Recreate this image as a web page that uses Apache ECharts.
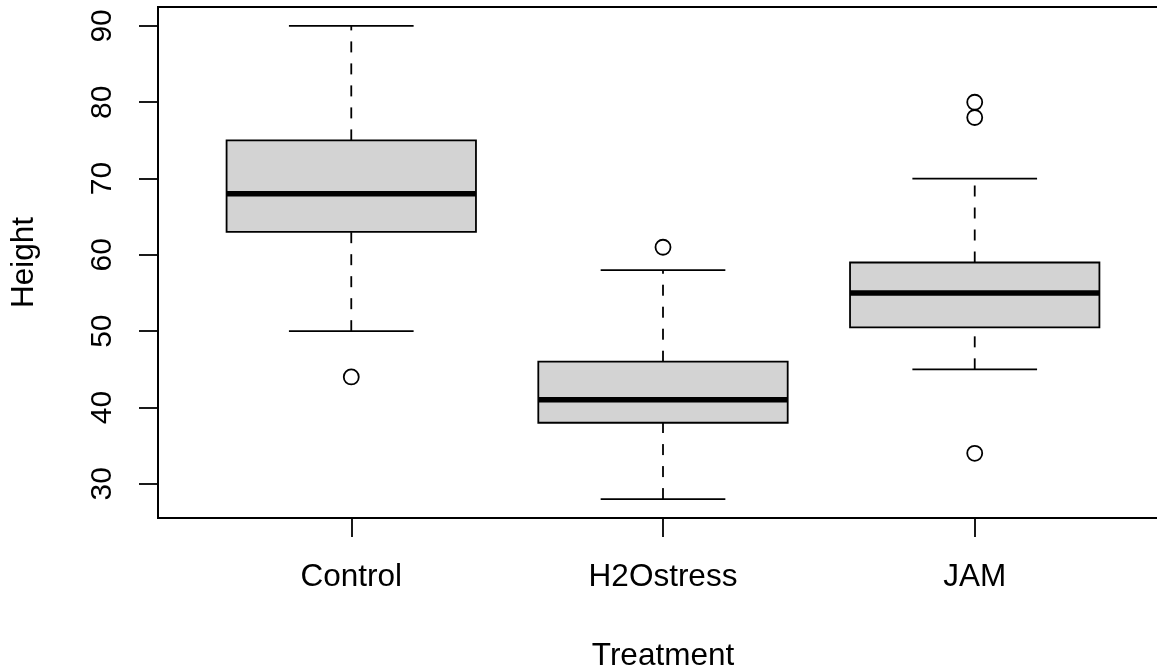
<!DOCTYPE html>
<html>
<head>
<meta charset="utf-8">
<script src="https://cdn.jsdelivr.net/npm/echarts@6/dist/echarts.min.js"></script>
<style>
  html, body { margin: 0; padding: 0; background: #fff; }
  #chart { width: 1157px; height: 665px; }
</style>
</head>
<body>
<div id="chart"></div>
<script>
// groups along the x axis
const categories = ['Control', 'H2Ostress', 'JAM']
// five-number summaries: lower whisker, Q1, median, Q3, upper whisker
const lowerWhisker = [50, 28, 45]
const q1 = [63, 38, 50.5]
const median = [68, 41, 55]
const q3 = [75, 46, 59]
const upperWhisker = [90, 58, 70]
// outliers as [group index, value]
const outlierGroup = [0, 1, 2, 2, 2]
const outlierValue = [44, 61, 34, 78, 80]
const yTicks = [30, 40, 50, 60, 70, 80, 90]

const font = 'Liberation Sans, Arial, Helvetica, sans-serif'
const boxHalf = 0.4    // box width 0.8 in axis units
const stapleHalf = 0.2 // whisker ends half of box width

const boxData = categories.map(function (c, i) {
  return [i + 1, lowerWhisker[i], q1[i], median[i], q3[i], upperWhisker[i]]
})
const outlierData = outlierValue.map(function (v, i) {
  return [outlierGroup[i] + 1, v]
})

function renderBox (params, api) {
  const x = api.value(0)
  const lo = api.coord([x, api.value(1)])
  const b1 = api.coord([x - boxHalf, api.value(2)])
  const b2 = api.coord([x + boxHalf, api.value(4)])
  const md1 = api.coord([x - boxHalf, api.value(3)])
  const md2 = api.coord([x + boxHalf, api.value(3)])
  const hi = api.coord([x, api.value(5)])
  const s1 = api.coord([x - stapleHalf, 0])[0]
  const s2 = api.coord([x + stapleHalf, 0])[0]
  const solid = { stroke: '#000', lineWidth: 1.8 }
  const dashed = { stroke: '#000', lineWidth: 1.8, lineDash: [11, 11] }
  return {
    type: 'group',
    children: [
      // whiskers (dashed)
      { type: 'line', shape: { x1: lo[0], y1: lo[1], x2: lo[0], y2: b1[1] }, style: dashed },
      { type: 'line', shape: { x1: hi[0], y1: b2[1], x2: hi[0], y2: hi[1] }, style: dashed },
      // staples
      { type: 'line', shape: { x1: s1, y1: lo[1], x2: s2, y2: lo[1] }, style: solid },
      { type: 'line', shape: { x1: s1, y1: hi[1], x2: s2, y2: hi[1] }, style: solid },
      // box
      {
        type: 'rect',
        shape: { x: b1[0], y: b2[1], width: b2[0] - b1[0], height: b1[1] - b2[1] },
        style: { fill: '#d3d3d3', stroke: '#000', lineWidth: 1.8 }
      },
      // median
      { type: 'line', shape: { x1: md1[0], y1: md1[1], x2: md2[0], y2: md2[1] }, style: { stroke: '#000', lineWidth: 5.5 } }
    ]
  }
}

const chart = echarts.init(document.getElementById('chart'))
chart.setOption({
  animation: false,
  backgroundColor: '#fff',
  grid: {
    left: 158,
    top: 7,
    width: 1010, // plot region runs past the right edge of the picture
    bottom: 147,
    outerBoundsMode: 'none',
    show: true,
    borderColor: '#000',
    borderWidth: 2,
    backgroundColor: 'transparent'
  },
  xAxis: {
    type: 'value',
    min: 0.38,
    max: 3.62,
    name: 'Treatment',
    nameLocation: 'middle',
    nameGap: 122,
    nameTextStyle: { fontFamily: font, fontSize: 31.5, color: '#000' },
    axisLine: { show: false },
    splitLine: { show: false },
    axisTick: {
      show: true,
      length: 19,
      lineStyle: { color: '#000', width: 1.8 },
      customValues: [1, 2, 3]
    },
    axisLabel: {
      fontFamily: font,
      fontSize: 31.5,
      color: '#000',
      margin: 43,
      customValues: [1, 2, 3],
      formatter: function (v) { return categories[Math.round(v) - 1] }
    }
  },
  yAxis: {
    type: 'value',
    min: 25.52,
    max: 92.48,
    name: 'Height',
    nameLocation: 'middle',
    nameRotate: 90,
    nameGap: 118,
    nameTextStyle: { fontFamily: font, fontSize: 31.5, color: '#000' },
    axisLine: { show: false },
    splitLine: { show: false },
    axisTick: {
      show: true,
      length: 19,
      lineStyle: { color: '#000', width: 1.8 },
      customValues: yTicks
    },
    axisLabel: {
      fontFamily: font,
      fontSize: 30,
      color: '#000',
      rotate: 90,
      margin: 40,
      customValues: yTicks
    }
  },
  series: [
    {
      type: 'custom',
      renderItem: renderBox,
      data: boxData,
      encode: { x: 0, y: [1, 2, 3, 4, 5] },
      z: 2
    },
    {
      type: 'scatter',
      data: outlierData,
      symbol: 'circle',
      symbolSize: 15,
      itemStyle: { color: '#fff', borderColor: '#000', borderWidth: 1.8, opacity: 1 },
      z: 3
    }
  ]
})
</script>
</body>
</html>
